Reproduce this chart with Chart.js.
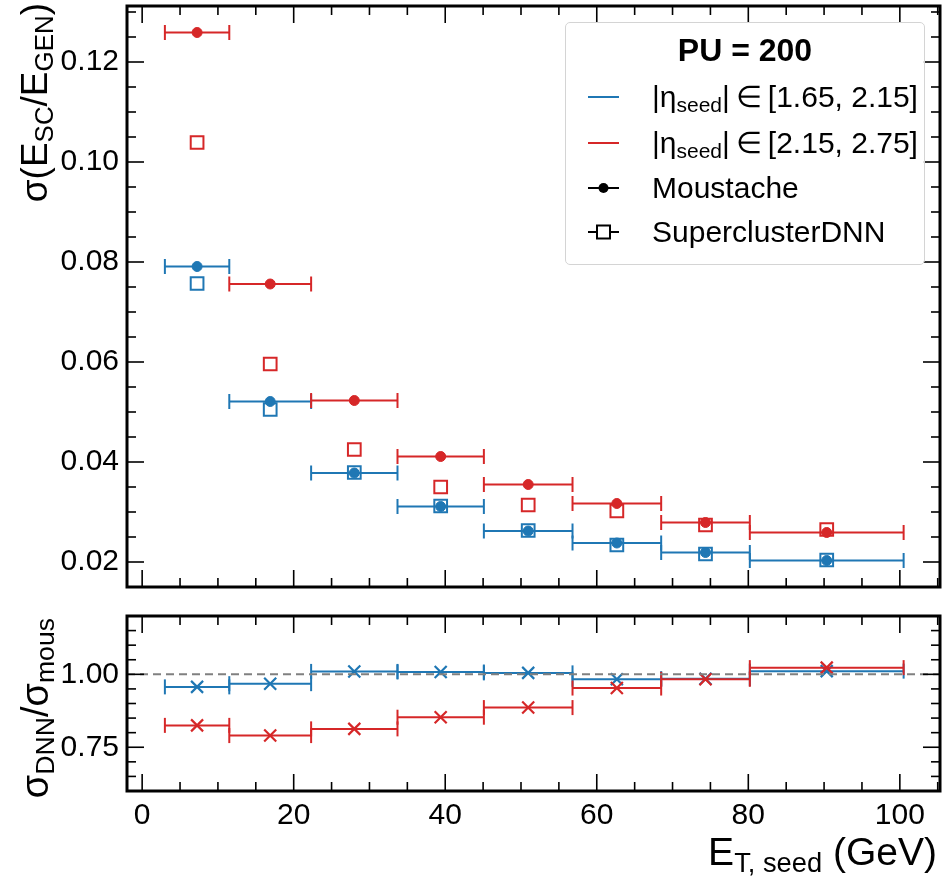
<!DOCTYPE html>
<html><head><meta charset="utf-8">
<script src="https://cdn.jsdelivr.net/npm/chart.js@4.4.1/dist/chart.umd.min.js"></script>
<style>
html,body{margin:0;padding:0;background:#fff;}
#wrap{position:relative;width:944px;height:876px;overflow:hidden;font-family:"Liberation Sans",Arial,sans-serif;color:#000;background:#fff;}
canvas{position:absolute;left:0;}
.s{font-size:70%;position:relative;top:0.24em;}
.rot{position:absolute;left:0;top:0;width:600px;text-align:right;white-space:nowrap;transform-origin:0 0;}
#legend{position:absolute;left:565px;top:22px;width:358px;height:241px;border:1px solid #d4d4d4;border-radius:5px;background:rgba(255,255,255,0.85);}
.lrow{position:absolute;left:0;width:360px;height:36px;font-size:30px;line-height:36px;white-space:nowrap;}
.lrow svg{position:absolute;left:22px;top:0;}
.lrow span.t{position:absolute;left:86px;top:0;}
</style></head><body>
<div id="wrap">
<canvas id="cTop" width="944" height="600" style="top:0;width:944px;height:600px"></canvas>
<canvas id="cBot" width="944" height="276" style="top:600px;width:944px;height:276px"></canvas>

<div class="rot" style="font-size:37px;line-height:38px;transform:translate(16px,603px) rotate(-90deg);">σ(E<span class="s">SC</span>/E<span class="s">GEN</span>)</div>
<div class="rot" style="font-size:38px;line-height:38px;transform:translate(16px,1218px) rotate(-90deg);">σ<span class="s">DNN</span>/σ<span class="s">mous</span></div>
<div style="position:absolute;right:7px;top:833px;font-size:39px;line-height:38px;white-space:nowrap;">E<span class="s">T, seed</span> (GeV)</div>

<div id="legend">
  <div style="position:absolute;left:0;width:358px;top:9px;text-align:center;font-weight:bold;font-size:32px;line-height:36px;">PU = 200</div>
  <div class="lrow" style="top:56px"><svg width="32" height="36"><line x1="0" y1="18" x2="31" y2="18" stroke="#1f77b4" stroke-width="2"/></svg><span class="t">|η<span class="s">seed</span>|&#8201;∈&#8201;[1.65, 2.15]</span></div>
  <div class="lrow" style="top:102px"><svg width="32" height="36"><line x1="0" y1="18" x2="31" y2="18" stroke="#d62728" stroke-width="2"/></svg><span class="t">|η<span class="s">seed</span>|&#8201;∈&#8201;[2.15, 2.75]</span></div>
  <div class="lrow" style="top:147px"><svg width="32" height="36"><line x1="0" y1="18" x2="31" y2="18" stroke="#000" stroke-width="2"/><circle cx="15.5" cy="18" r="5" fill="#000"/></svg><span class="t">Moustache</span></div>
  <div class="lrow" style="top:191px"><svg width="32" height="36"><line x1="0" y1="18" x2="31" y2="18" stroke="#000" stroke-width="2"/><rect x="9" y="11.5" width="13" height="13" fill="#fff" stroke="#000" stroke-width="2"/></svg><span class="t">SuperclusterDNN</span></div>
</div>
</div>

<script>
// ---------------- data ----------------
const binEdges   = [3, 11.5, 22.3, 33.7, 45.1, 56.8, 68.5, 80.2, 100.5];
const binCenters = [7.25, 16.9, 28.0, 39.4, 50.95, 62.65, 74.35, 90.35];

// |eta_seed| in [1.65, 2.15]
const moustLow = [0.0791, 0.0521, 0.0378, 0.0311, 0.0262, 0.0238, 0.0219, 0.0203];
const dnnLow   = [0.0757, 0.0505, 0.0379, 0.0312, 0.0263, 0.0234, 0.0216, 0.0204];
// |eta_seed| in [2.15, 2.75]
const moustHigh = [0.1259, 0.0756, 0.0523, 0.0411, 0.0355, 0.0317, 0.0279, 0.0259];
const dnnHigh   = [0.1039, 0.0596, 0.0425, 0.0350, 0.0314, 0.0302, 0.0274, 0.0265];

// ratio sigma_DNN / sigma_mous
const ratioLow  = [0.957, 0.968, 1.010, 1.008, 1.005, 0.983, 0.985, 1.011];
const ratioHigh = [0.825, 0.790, 0.813, 0.853, 0.886, 0.953, 0.983, 1.023];

const xTicks = [0, 20, 40, 60, 80, 100];
const yTicksTop = [0.02, 0.04, 0.06, 0.08, 0.10, 0.12];
const yTicksRatio = [0.75, 1.00];
const ratioRef = 1.0;

// ---------------- style ----------------
const BLUE = '#1f77b4', RED = '#d62728';
const FONT = {family: '"Liberation Sans", Arial, sans-serif', size: 30};
const X_MIN = -2, X_MAX = 105.3;

function barData(vals) {
  const d = [];
  vals.forEach((v, i) => {
    d.push({x: binEdges[i], y: v}, {x: binEdges[i + 1], y: v}, {x: binEdges[i + 1], y: null});
  });
  return d;
}
function ptData(vals) { return vals.map((v, i) => ({x: binCenters[i], y: v})); }

function barDS(vals, color, order) {
  return {data: barData(vals), showLine: true, spanGaps: false, borderColor: color, borderWidth: 2,
    pointStyle: 'line', rotation: 90, pointRadius: 7.5, pointBorderWidth: 2, pointBorderColor: color,
    pointBackgroundColor: color, order};
}
function markerDS(vals, color, style, radius, filled, order, bw) {
  return {data: ptData(vals), showLine: false, pointStyle: style, pointRadius: radius,
    pointBorderWidth: bw, pointBorderColor: color,
    pointBackgroundColor: filled ? color : 'rgba(0,0,0,0)', order};
}
function noPad(s) { s.paddingLeft = 0; s.paddingRight = 0; s.paddingTop = 0; s.paddingBottom = 0; }

const frame = {
  id: 'frame',
  afterDatasetsDraw(chart, args, o) {
    const {ctx, chartArea: a} = chart;
    const xs = chart.scales.x, ys = chart.scales.y;
    ctx.save();
    ctx.strokeStyle = '#000';
    ctx.lineWidth = 1.6;
    const seg = (x1, y1, x2, y2) => { ctx.beginPath(); ctx.moveTo(x1, y1); ctx.lineTo(x2, y2); ctx.stroke(); };
    const steps = (min, max, step) => {
      const r = [];
      for (let k = Math.ceil(min / step - 1e-9); k * step <= max + 1e-9; k++) r.push(k * step);
      return r;
    };
    const xMaj = xs.ticks.map(t => t.value), yMaj = ys.ticks.map(t => t.value);
    const isMaj = (v, arr) => arr.some(m => Math.abs(m - v) < 1e-6);
    steps(xs.min, xs.max, o.xMinor).forEach(v => {
      const p = xs.getPixelForValue(v);
      const len = isMaj(v, xMaj) ? 17 : 9;
      seg(p, a.bottom, p, a.bottom - len); seg(p, a.top, p, a.top + len);
    });
    steps(ys.min, ys.max, o.yMinor).forEach(v => {
      const p = ys.getPixelForValue(v);
      const len = isMaj(v, yMaj) ? 17 : 9;
      seg(a.left, p, a.left + len, p); seg(a.right, p, a.right - len, p);
    });
    ctx.lineWidth = 3;
    ctx.strokeRect(a.left, a.top, a.right - a.left, a.bottom - a.top);
    ctx.restore();
  }
};

const common = {
  responsive: false, animation: false, devicePixelRatio: 1,
  plugins: {legend: {display: false}, tooltip: {enabled: false}},
  elements: {line: {tension: 0}}
};

new Chart(document.getElementById('cTop'), {
  type: 'scatter',
  data: {datasets: [
    markerDS(dnnLow, BLUE, 'rect', 9, false, 6, 2),
    barDS(moustLow, BLUE, 5),
    markerDS(moustLow, BLUE, 'circle', 5, true, 4, 1),
    markerDS(dnnHigh, RED, 'rect', 9, false, 3, 2),
    barDS(moustHigh, RED, 2),
    markerDS(moustHigh, RED, 'circle', 5, true, 1, 1)
  ]},
  options: Object.assign({}, common, {
    layout: {autoPadding: false, padding: {top: 6, right: 4, left: 0, bottom: 0}},
    plugins: Object.assign({}, common.plugins, {frame: {xMinor: 5, yMinor: 0.005}}),
    scales: {
      x: {type: 'linear', min: X_MIN, max: X_MAX, ticks: {display: false},
          grid: {display: false, drawTicks: false}, border: {display: false},
          afterBuildTicks: s => { s.ticks = xTicks.map(v => ({value: v})); },
          afterFit: s => { s.height = 13; noPad(s); }},
      y: {type: 'linear', min: 0.015, max: 0.1312,
          ticks: {font: FONT, color: '#000', padding: 8, callback: v => Number(v).toFixed(2)},
          grid: {display: false, drawTicks: false}, border: {display: false},
          afterBuildTicks: s => { s.ticks = yTicksTop.map(v => ({value: v})); },
          afterFit: s => { s.width = 127; noPad(s); }}
    }
  }),
  plugins: [frame]
});

new Chart(document.getElementById('cBot'), {
  type: 'scatter',
  data: {datasets: [
    barDS(ratioLow, BLUE, 5),
    markerDS(ratioLow, BLUE, 'crossRot', 8.5, false, 4, 2.2),
    barDS(ratioHigh, RED, 3),
    markerDS(ratioHigh, RED, 'crossRot', 8.5, false, 2, 2.2),
    {data: [{x: X_MIN, y: ratioRef}, {x: X_MAX, y: ratioRef}], showLine: true, borderColor: '#808080',
     borderWidth: 2, borderDash: [8, 5], pointRadius: 0, order: 1}
  ]},
  options: Object.assign({}, common, {
    layout: {autoPadding: false, padding: {top: 16, right: 4, left: 0, bottom: 0}},
    plugins: Object.assign({}, common.plugins, {frame: {xMinor: 5, yMinor: 0.05}}),
    scales: {
      x: {type: 'linear', min: X_MIN, max: X_MAX,
          ticks: {font: FONT, color: '#000', padding: 7, maxRotation: 0, autoSkip: false},
          grid: {display: false, drawTicks: false}, border: {display: false},
          afterBuildTicks: s => { s.ticks = xTicks.map(v => ({value: v})); },
          afterFit: s => { s.height = 85; noPad(s); }},
      y: {type: 'linear', min: 0.6, max: 1.2,
          ticks: {font: FONT, color: '#000', padding: 8, callback: v => Number(v).toFixed(2)},
          grid: {display: false, drawTicks: false}, border: {display: false},
          afterBuildTicks: s => { s.ticks = yTicksRatio.map(v => ({value: v})); },
          afterFit: s => { s.width = 127; noPad(s); }}
    }
  }),
  plugins: [frame]
});
</script>
</body></html>
